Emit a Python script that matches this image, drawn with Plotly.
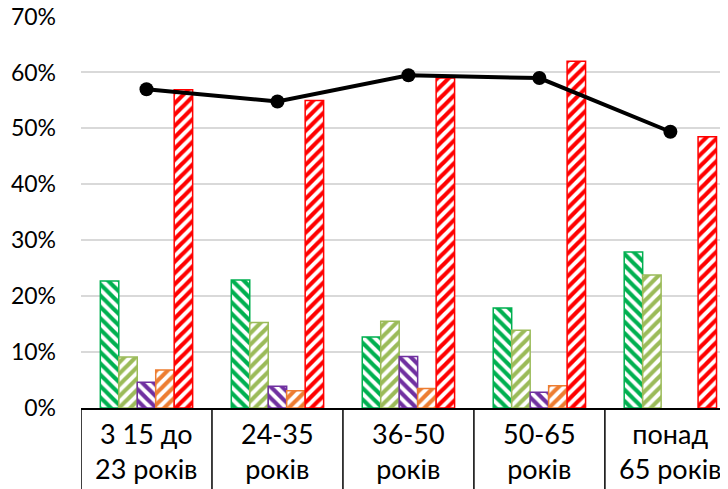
import plotly.graph_objects as go

categories = ["3 15 до<br>23 років", "24-35<br>років", "36-50<br>років", "50-65<br>років", "понад<br>65 років"]
series_names = ["Серія 1", "Серія 2", "Серія 3", "Серія 4", "Серія 5"]
s1 = [0.227, 0.229, 0.127, 0.179, 0.279]
s2 = [0.091, 0.153, 0.155, 0.139, 0.238]
s3 = [0.046, 0.039, 0.092, 0.028, None]
s4 = [0.068, 0.031, 0.035, 0.040, None]
s5 = [0.569, 0.550, 0.590, 0.620, 0.485]
line_vals = [0.570, 0.548, 0.595, 0.590, 0.494]
y_ticks = [0, 0.1, 0.2, 0.3, 0.4, 0.5, 0.6, 0.7]
y_labels = ["0%", "10%", "20%", "30%", "40%", "50%", "60%", "70%"]

colors = ["#00B050", "#9BBB59", "#7030A0", "#ED7D31", "#FF0000"]
shapes_pat = ["\\", "/", "\\", "/", "/"]
xs = list(range(len(categories)))

fig = go.Figure()
for name, vals, c, sh in zip(series_names, [s1, s2, s3, s4, s5], colors, shapes_pat):
    fig.add_trace(go.Bar(
        x=xs, y=vals, name=name,
        marker=dict(color="white", line=dict(color=c, width=1.5),
                    pattern=dict(shape=sh, fgcolor=c, bgcolor="white", fgopacity=1,
                                 size=8, solidity=0.52, fillmode="replace")),
    ))

fig.add_trace(go.Scatter(
    x=xs, y=line_vals, mode="lines+markers", name="Лінія",
    line=dict(color="black", width=4), marker=dict(color="black", size=14),
))

FONT = "Lato"
shapes = []
for i in range(len(categories) + 1):
    shapes.append(dict(type="line", xref="x", yref="paper", x0=i - 0.5, x1=i - 0.5,
                       y0=0, y1=-0.3, line=dict(color="black", width=1.5)))

annotations = []
for i, c in enumerate(categories):
    annotations.append(dict(x=i, y=-0.11, xref="x", yref="paper", text=c, showarrow=False,
                            xanchor="center", yanchor="middle",
                            font=dict(family=FONT, size=27, color="black")))

# page body has an 8px margin; figure sized so it fills the 728x489 window
fig.update_layout(
    width=720, height=481,
    margin=dict(l=73, r=0, t=8, b=81, autoexpand=False),
    paper_bgcolor="white", plot_bgcolor="white",
    barmode="group", bargap=0.295, bargroupgap=0,
    showlegend=False,
    shapes=shapes, annotations=annotations,
    font=dict(family=FONT, color="black"),
)
fig.update_xaxes(range=[-0.5, 4.44], showticklabels=False, showgrid=False, zeroline=False,
                 showline=True, linecolor="black", linewidth=1.5, ticks="", automargin=False)
fig.update_yaxes(range=[0, 0.701], tickvals=y_ticks, ticktext=y_labels,
                 tickfont=dict(family=FONT, size=23, color="black"),
                 showgrid=True, gridcolor="#D9D9D9", gridwidth=1.5, zeroline=False,
                 showline=False, ticks="", ticklabelstandoff=24, automargin=False,
                 ticklabeloverflow="allow")

fig.write_html("out.html")
